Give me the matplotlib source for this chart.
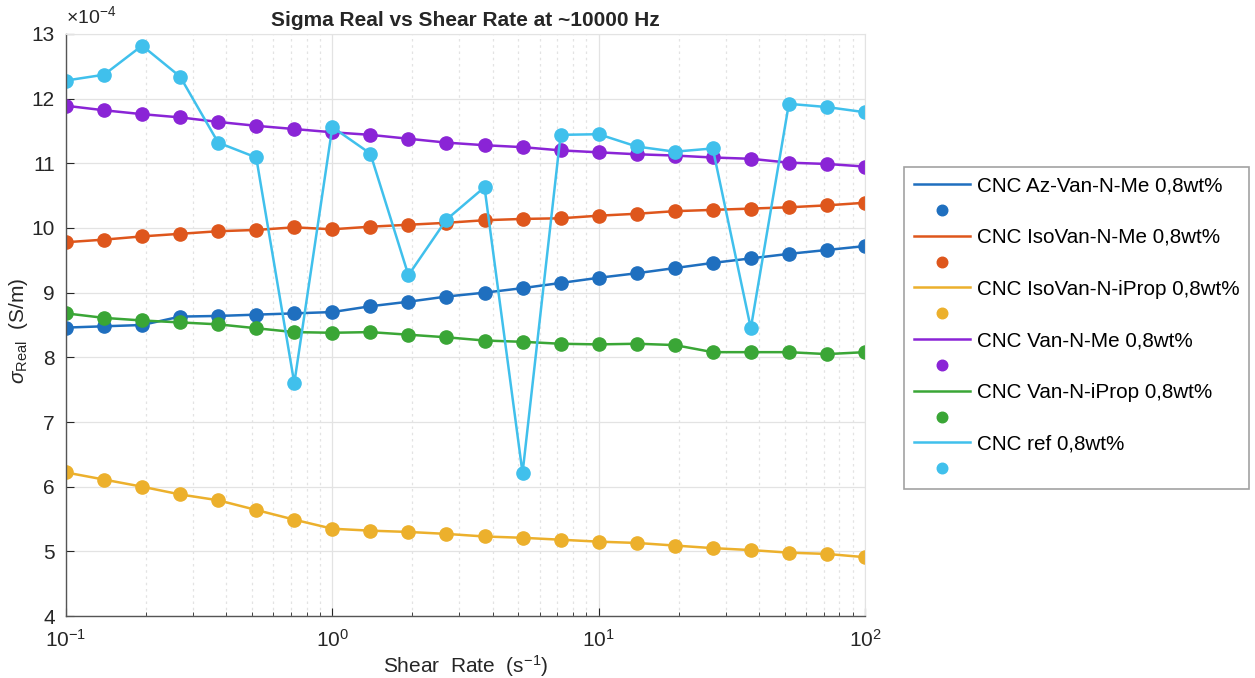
import numpy as np
import matplotlib.pyplot as plt
from matplotlib.ticker import LogLocator, NullFormatter

plt.rcParams['font.family'] = ['Liberation Sans', 'DejaVu Sans']
plt.rcParams['mathtext.fontset'] = 'custom'
plt.rcParams['mathtext.rm'] = 'Liberation Sans'
plt.rcParams['mathtext.it'] = 'Liberation Sans:italic'
plt.rcParams['axes.unicode_minus'] = False

# shear rate sweep, 22 log-spaced points from 0.1 to 100 1/s
shear_rate = np.logspace(-1, 2, 22)

# sigma real in units of 1e-4 S/m
az_van_n_me = [8.46, 8.48, 8.50, 8.63, 8.64, 8.66, 8.68, 8.70, 8.79, 8.86, 8.94,
               9.00, 9.07, 9.15, 9.23, 9.30, 9.38, 9.46, 9.53, 9.60, 9.66, 9.72]
isovan_n_me = [9.78, 9.82, 9.87, 9.91, 9.95, 9.97, 10.01, 9.98, 10.02, 10.05, 10.08,
               10.12, 10.14, 10.15, 10.19, 10.22, 10.26, 10.28, 10.30, 10.32, 10.35, 10.39]
isovan_n_iprop = [6.22, 6.11, 6.00, 5.88, 5.79, 5.64, 5.49, 5.35, 5.32, 5.30, 5.27,
                  5.23, 5.21, 5.18, 5.15, 5.13, 5.09, 5.05, 5.02, 4.98, 4.96, 4.91]
van_n_me = [11.89, 11.82, 11.76, 11.71, 11.64, 11.58, 11.53, 11.48, 11.44, 11.38, 11.32,
            11.28, 11.25, 11.20, 11.17, 11.14, 11.12, 11.09, 11.07, 11.01, 10.99, 10.95]
van_n_iprop = [8.68, 8.61, 8.57, 8.54, 8.51, 8.45, 8.39, 8.38, 8.39, 8.35, 8.31,
               8.26, 8.24, 8.21, 8.20, 8.21, 8.19, 8.08, 8.08, 8.08, 8.05, 8.08]
cnc_ref = [12.28, 12.37, 12.82, 12.34, 11.32, 11.09, 7.60, 11.56, 11.15, 9.27, 10.13,
           10.63, 6.21, 11.44, 11.45, 11.26, 11.18, 11.23, 8.45, 11.92, 11.87, 11.79]

labels = ['CNC Az-Van-N-Me 0,8wt%', 'CNC IsoVan-N-Me 0,8wt%', 'CNC IsoVan-N-iProp 0,8wt%',
          'CNC Van-N-Me 0,8wt%', 'CNC Van-N-iProp 0,8wt%', 'CNC ref 0,8wt%']
series = [az_van_n_me, isovan_n_me, isovan_n_iprop, van_n_me, van_n_iprop, cnc_ref]
colors = ['#1f6fbf', '#de561c', '#ecb02c', '#8a24d6', '#3aa636', '#40c0ec']

fig = plt.figure(figsize=(12.55, 6.78), dpi=100)
ax = fig.add_axes([0.0526, 0.0914, 0.6366, 0.8585])

for vals, lab, c in zip(series, labels, colors):
    ax.plot(shear_rate, vals, '-', color=c, lw=1.8, label=lab)
    ax.plot(shear_rate, vals, 'o', color=c, ms=9.5, mec=c, label=' ')

ax.set_xscale('log')
ax.set_xlim(0.1, 100)
ax.set_ylim(4, 13)
ax.set_yticks(range(4, 14))
ax.xaxis.set_minor_locator(LogLocator(base=10, subs=np.arange(2, 10)))
ax.xaxis.set_minor_formatter(NullFormatter())

ax.grid(True, which='major', color='#e3e3e3', lw=0.9)
ax.grid(True, which='minor', axis='x', color='#e3e3e3', lw=0.9, ls=(0, (2, 3)))
ax.set_axisbelow(True)

for s in ['top', 'right']:
    ax.spines[s].set_color('#e3e3e3')
for s in ['left', 'bottom']:
    ax.spines[s].set_color('#555555')
    ax.spines[s].set_linewidth(1.0)

ax.tick_params(which='both', direction='in', top=False, right=False,
               labelsize=15, colors='#262626')
ax.tick_params(which='major', length=6)
ax.tick_params(which='minor', length=3)
ax.tick_params(axis='x', which='major', pad=9)
ax.tick_params(axis='y', which='major', pad=8)

ax.set_title('Sigma Real vs Shear Rate at ~10000 Hz', fontsize=15, fontweight='bold',
             color='#262626', pad=6)
ax.set_xlabel(r'Shear  Rate  (s$^{-1}$)', fontsize=15, color='#262626', labelpad=2)
ax.set_ylabel(r'$\sigma_{\mathrm{Real}}$  (S/m)', fontsize=15, color='#262626')
ax.yaxis.set_label_coords(-0.045, 0.49)
ax.text(0.0, 1.012, r'$\times$10$^{-4}$', transform=ax.transAxes, fontsize=14,
        color='#262626', ha='left', va='bottom')

leg = ax.legend(loc='upper left', bbox_to_anchor=(1.0495, 0.7715), fontsize=14.9,
                frameon=True, fancybox=False, edgecolor='#8a8a8a', handlelength=2.7,
                handletextpad=0.35, labelspacing=0.33, borderpad=0.45, borderaxespad=0,
                markerscale=0.8)
leg.get_frame().set_linewidth(1.2)

fig.savefig('out.png', dpi=100)
